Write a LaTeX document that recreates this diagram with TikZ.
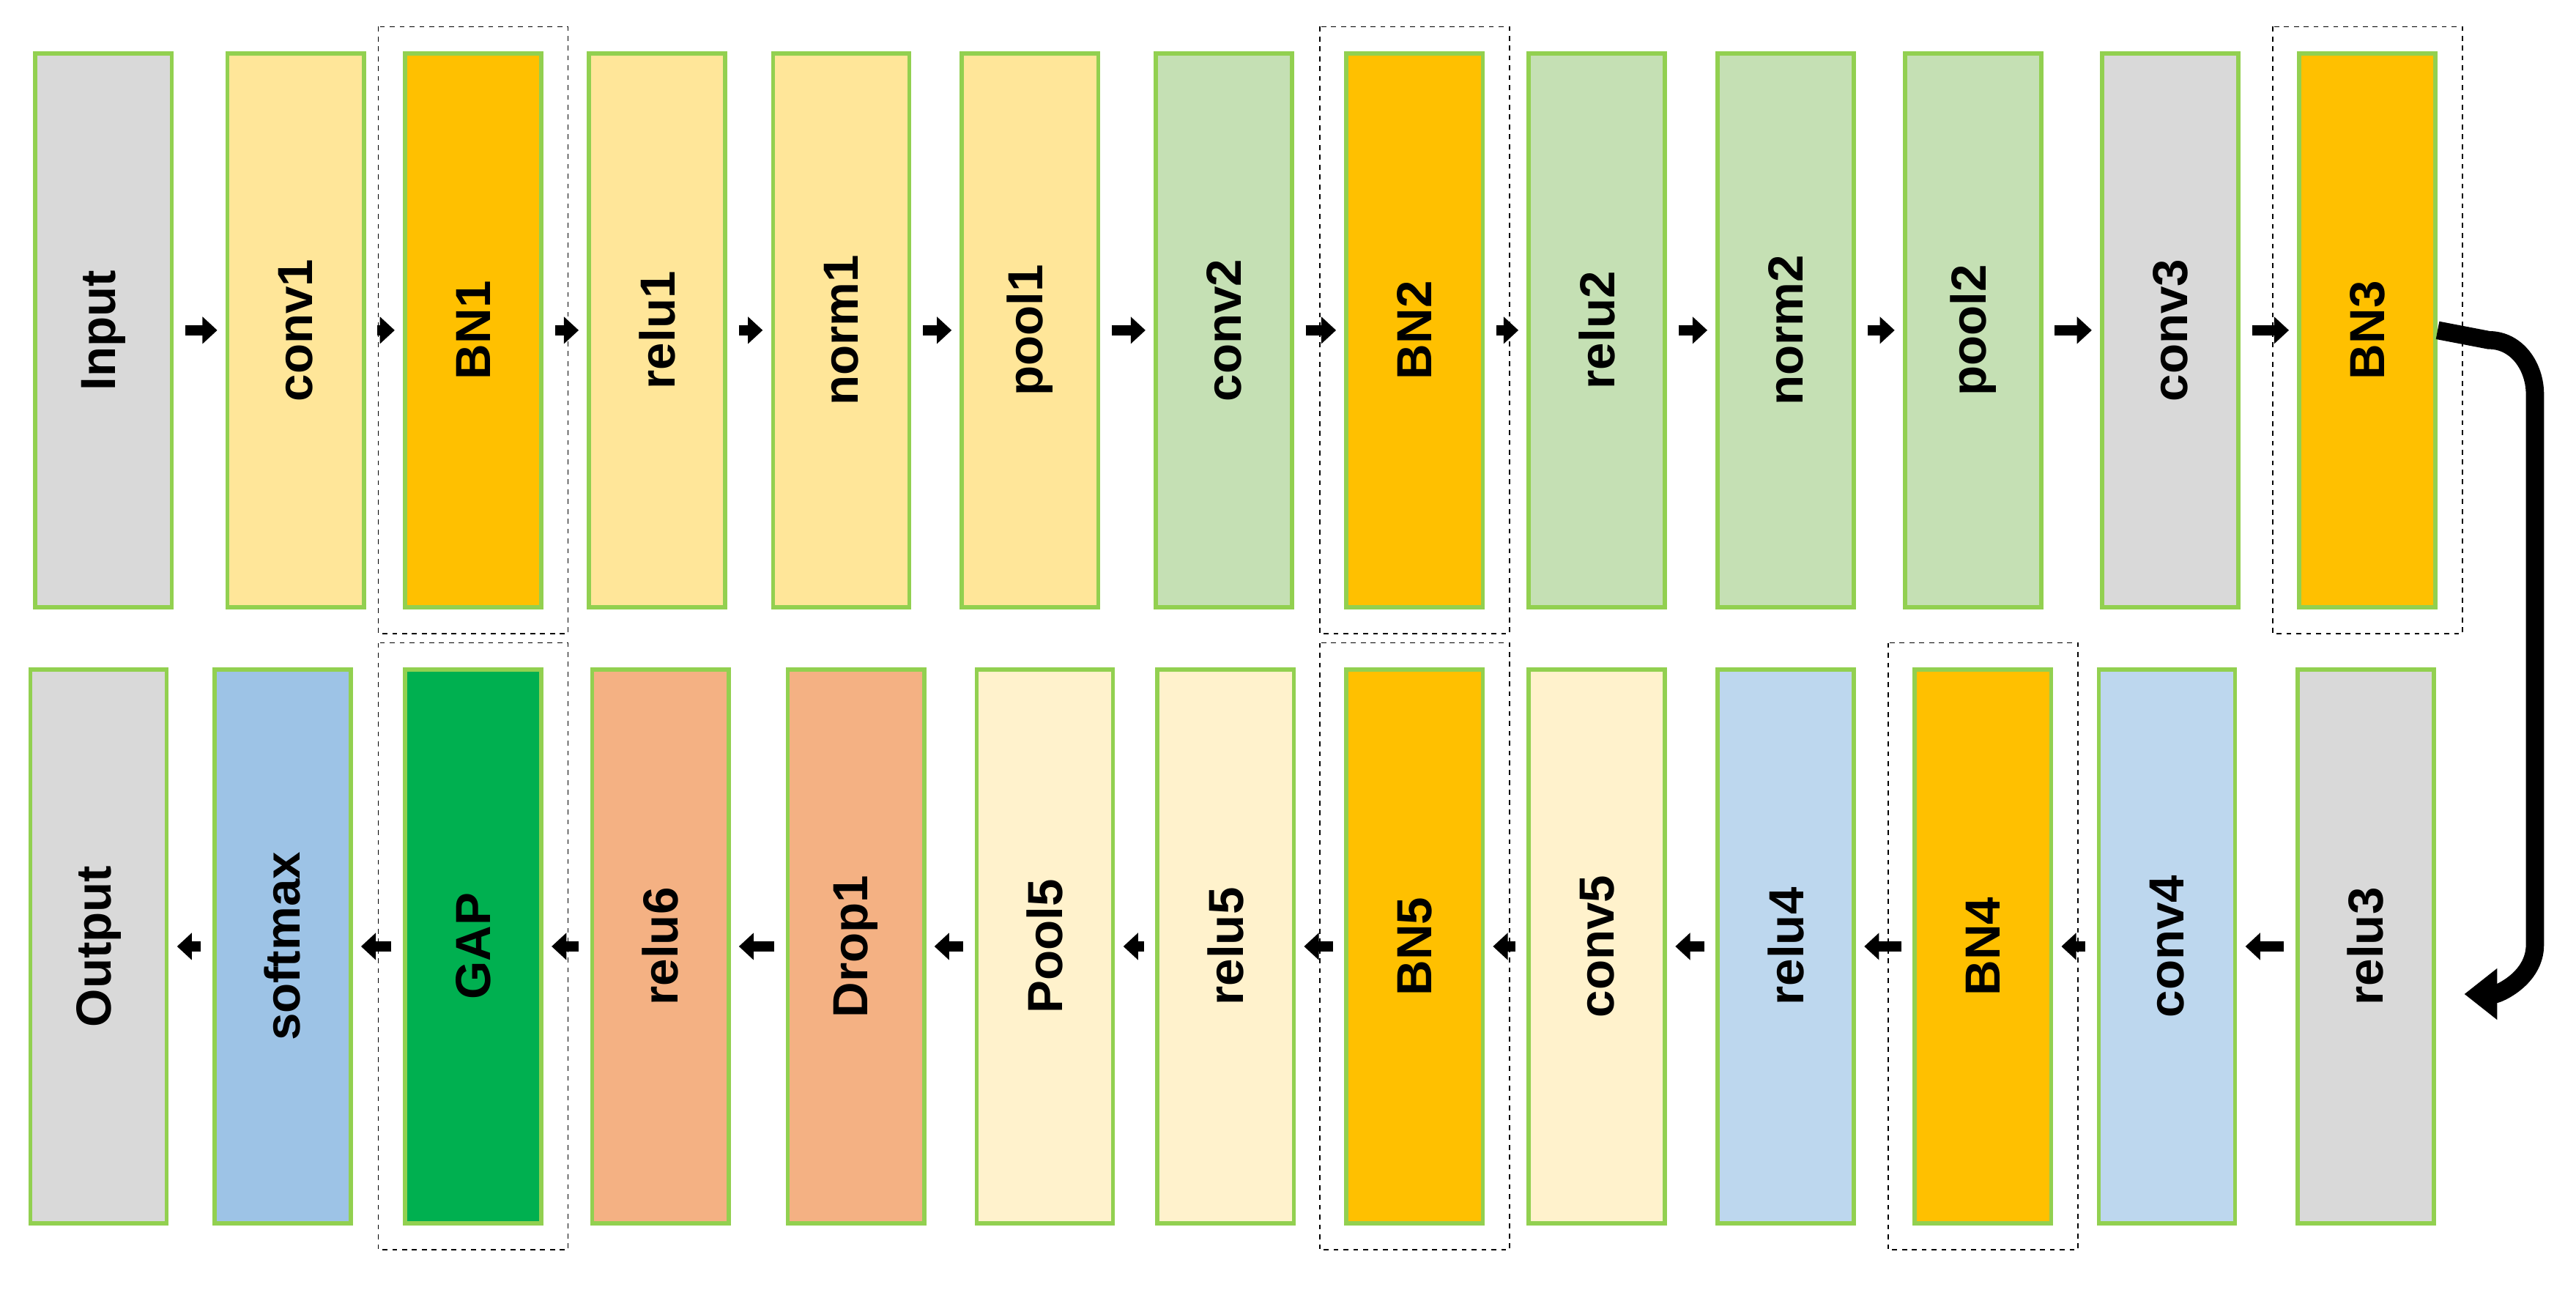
\documentclass[tikz,border=0pt]{standalone}
\usepackage{fontspec}
\setmainfont{Liberation Sans}
\usetikzlibrary{arrows.meta}
\definecolor{cgray}{HTML}{D9D9D9}
\definecolor{cyel}{HTML}{FFE699}
\definecolor{corg}{HTML}{FFC000}
\definecolor{cgrn}{HTML}{C5E0B4}
\definecolor{cblu}{HTML}{9DC3E6}
\definecolor{cblu2}{HTML}{BDD7EE}
\definecolor{cdgrn}{HTML}{00B050}
\definecolor{csal}{HTML}{F4B183}
\definecolor{ccre}{HTML}{FFF2CC}
\definecolor{cbrd}{HTML}{92D050}
\begin{document}
\begin{tikzpicture}[x=1pt,y=-1pt,
  layer/.style={draw=cbrd,line width=2.5pt,minimum width=83pt,minimum height=337pt,inner sep=0pt,
    font=\fontsize{30}{36}\selectfont\bfseries},
  sarr/.style={line width=6pt,-{Triangle[length=9pt,width=16pt]},shorten <=7pt,shorten >=5pt},
  dbox/.style={draw,dashed,line width=0.8pt}]
\useasboundingbox (0,0) rectangle (1568,785);
\def\rowA{{"Input","conv1","BN1","relu1","norm1","pool1","conv2","BN2","relu2","norm2","pool2","conv3","BN3"}}
\foreach \n/\t/\x/\c in {a1/Input/63/cgray,a2/conv1/180/cyel,a3/BN1/288/corg,a4/relu1/400/cyel,a5/norm1/512/cyel,a6/pool1/627/cyel,a7/conv2/745/cgrn,a8/BN2/861/corg,a9/relu2/972/cgrn,a10/norm2/1087/cgrn,a11/pool2/1201/cgrn,a12/conv3/1321/cgray,a13/BN3/1441/corg}
  \node[layer,fill=\c] (\n) at (\x,201) {\rotatebox{90}{\t}};
\foreach \n/\t/\x/\c in {b1/Output/60/cgray,b2/softmax/172/cblu,b3/GAP/288/cdgrn,b4/relu6/402/csal,b5/Drop1/521/csal,b6/Pool5/636/ccre,b7/relu5/746/ccre,b8/BN5/861/corg,b9/conv5/972/ccre,b10/relu4/1087/cblu2,b11/BN4/1207/corg,b12/conv4/1319/cblu2,b13/relu3/1440/cgray}
  \node[layer,fill=\c] (\n) at (\x,576) {\rotatebox{90}{\t}};
\foreach \i [evaluate=\i as \j using int(\i+1)] in {1,...,12}{
  \draw[sarr] (a\i.east) -- (a\j.west);
  \draw[sarr] (b\j.west) -- (b\i.east);}
\foreach \n in {a3,a8,a13,b3,b8,b11}
  \draw[dbox] ([shift={(-15pt,15pt)}]\n.north west) rectangle ([shift={(15pt,-15pt)}]\n.south east);
\coordinate (c1) at (1543,240);
\coordinate (c2) at (1543,575);
\draw[line width=11pt,-{Triangle[length=20pt,width=30pt]}] (a13.east) -- (1515,207) to[out=0,in=90] (c1) -- (c2) to[out=-90,in=0] (1500,605);
\end{tikzpicture}
\end{document}
